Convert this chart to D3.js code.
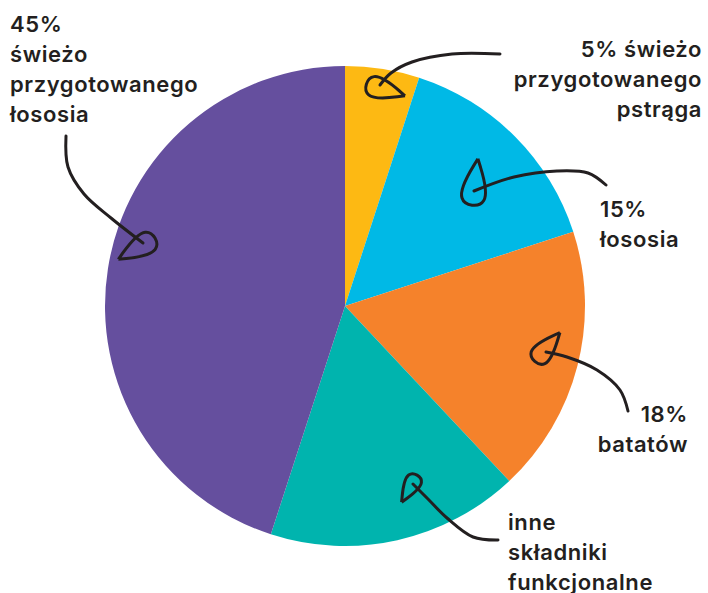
<!DOCTYPE html>
<html><head><meta charset="utf-8">
<script src="https://cdn.jsdelivr.net/npm/d3@7"></script>
<style>body{margin:0;background:#fff}svg{display:block}</style>
</head><body>
<script>
const categories = ["5% świeżo przygotowanego pstrąga","15% łososia","18% batatów","inne składniki funkcjonalne","45% świeżo przygotowanego łososia"];
const values = [5, 15, 18, 17, 45];
const colors = ["#FDB913","#00B9E6","#F5822B","#00B4AE","#654F9E"];
// label lines per slice
const labelLines = [
  ["5% świeżo","przygotowanego","pstrąga"],
  ["15%","łososia"],
  ["18%","batatów"],
  ["inne","składniki","funkcjonalne"],
  ["45%","świeżo","przygotowanego","łososia"]
];
const labelPos = [[702,57,"end"],[600,217,"start"],[688,422,"end"],[508,530,"start"],[10,32,"start"]];
// hand-drawn annotation arrows: path points, head centre, head apex
const arrowPaths = [
  [[500,54],[452,54],[412,62],[391,73],[380,85]],
  [[606,185],[588,173],[557,171],[514,177],[474,191]],
  [[628,411],[620,390],[597,370],[567,357],[546,352]],
  [[498,540],[473,537],[447,518],[427,498],[413,484]],
  [[66,136],[68,167],[84,194],[111,218],[143,243]]
];
const arrowHeads = [
  [[379,88],[399,94]],
  [[474,190],[477,166]],
  [[543,352],[556,337]],
  [[412,484],[404,498]],
  [[143,245],[124,256]]
];

const W=708,H=593, cx=345, cy=306, R=240;
const svg=d3.select("body").append("svg").attr("width",W).attr("height",H);
const pie=d3.pie().sort(null).value(d=>d);
const arc=d3.arc().innerRadius(0).outerRadius(R);
const g=svg.append("g").attr("transform",`translate(${cx},${cy})`);
g.selectAll("path").data(pie(values)).join("path")
  .attr("d",arc).attr("fill",(d,i)=>colors[i]);

const ink="#231F20";
const line=d3.line().curve(d3.curveCatmullRom.alpha(0.5));
svg.selectAll("path.arrow").data(arrowPaths).join("path").attr("class","arrow")
  .attr("d",d=>line(d)).attr("fill","none").attr("stroke",ink)
  .attr("stroke-width",3).attr("stroke-linecap","round");
const headLine=d3.line().curve(d3.curveBasisClosed);
svg.selectAll("path.head").data(arrowHeads).join("path").attr("class","head")
  .attr("d",([T,A])=>{
    const dx=A[0]-T[0], dy=A[1]-T[1], L=Math.hypot(dx,dy);
    const u=[dx/L,dy/L], v=[-u[1],u[0]];
    const k=1.3;
    const P=(a,b)=>[T[0]+k*(a*L*u[0]+b*L*v[0]), T[1]+k*(a*L*u[1]+b*L*v[1])];
    const pts=[P(1,0),P(1,0),P(1,0),P(-0.55,0.7),P(-0.55,-0.7)];
    return headLine(pts);
  })
  .attr("fill","none").attr("stroke",ink).attr("stroke-width",3).attr("stroke-linejoin","round");

labelLines.forEach((lines,i)=>{
  const [x,y,anchor]=labelPos[i];
  const t=svg.append("text").attr("x",x).attr("y",y).attr("text-anchor",anchor)
    .attr("font-family","Inter, 'Open Sans', sans-serif").attr("font-weight",600)
    .attr("font-size",22).attr("letter-spacing",0.6).attr("fill",ink);
  lines.forEach((s,j)=>t.append("tspan").attr("x",x).attr("y",y+j*30).text(s));
});
</script>
</body></html>
